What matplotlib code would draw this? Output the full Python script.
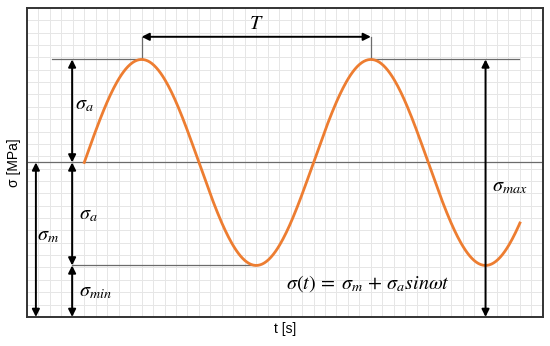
"""
Sinusoidal cyclic stress schematic: sigma(t) = sigma_m + sigma_a sin(wt).
"""

import matplotlib
matplotlib.use('Agg')
import matplotlib.pyplot as plt
import numpy as np

plt.rcParams['font.family'] = 'Liberation Sans'
plt.rcParams['mathtext.fontset'] = 'stix'

# Stress parameters (units where sigma_a = 1)
sigma_m = 1.5
sigma_a = 1.0
period = 1.0
t_start = 0.25     # curve starts at the mean level
t_end = 2.15
t_peaks = [0.5, 1.5]
t_troughs = [1.0, 2.0]

# Axis extents and grid spacing
x_max = 2.25
y_max = 3.0
grid_dx = 0.05
grid_dy = 0.12

# Dimension-arrow positions
x_arrow_inner = 0.197
x_arrow_outer = 0.039
y_period_arrow = 2.72

sigma_max = sigma_m + sigma_a
sigma_min = sigma_m - sigma_a

fig = plt.figure(figsize=(5.5, 3.46), dpi=100)
ax = fig.add_axes([0.049, 0.084, 0.938, 0.893])

# light drawing-paper grid
for gx in np.arange(grid_dx, x_max, grid_dx):
    ax.axvline(gx, color='#e6e6e6', linewidth=0.7, zorder=0)
for gy in np.arange(grid_dy, y_max, grid_dy):
    ax.axhline(gy, color='#e6e6e6', linewidth=0.7, zorder=0)

# reference lines
ref = dict(color='#6b6b6b', linewidth=0.9, zorder=1)
ax.plot([0, x_max], [sigma_m, sigma_m], **ref)
ax.plot([0.109, t_peaks[0]], [sigma_max, sigma_max], **ref)
ax.plot([t_peaks[1], 2.144], [sigma_max, sigma_max], **ref)
ax.plot([x_arrow_inner, t_troughs[0]], [sigma_min, sigma_min], **ref)
for tp in t_peaks:
    ax.plot([tp, tp], [sigma_max, y_period_arrow], **ref)

# stress curve
t = np.linspace(t_start, t_end, 400)
sigma = sigma_m + sigma_a * np.sin(2 * np.pi / period * (t - t_start))
ax.plot(t, sigma, color='#ED7D31', linewidth=2.0, zorder=3)


def dim_arrow(x0, y0, x1, y1):
    ax.annotate('', xy=(x1, y1), xytext=(x0, y0),
                arrowprops=dict(arrowstyle='<|-|>', color='black', lw=1.4,
                                mutation_scale=11, shrinkA=0, shrinkB=0),
                zorder=4)


dim_arrow(x_arrow_inner, sigma_max, x_arrow_inner, sigma_m)
dim_arrow(x_arrow_inner, sigma_m, x_arrow_inner, sigma_min)
dim_arrow(x_arrow_inner, sigma_min, x_arrow_inner, 0)
dim_arrow(x_arrow_outer, sigma_m, x_arrow_outer, 0)
dim_arrow(t_troughs[1], sigma_max, t_troughs[1], 0)
dim_arrow(t_peaks[0], y_period_arrow, t_peaks[1], y_period_arrow)

fs = 14.5
ax.text(1.0, 2.85, r'$T$', fontsize=fs, ha='center', va='center')
ax.text(0.21, 2.06, r'$\sigma_a$', fontsize=fs, ha='left', va='center')
ax.text(0.225, 0.99, r'$\sigma_a$', fontsize=fs, ha='left', va='center')
ax.text(0.225, 0.25, r'$\sigma_{min}$', fontsize=fs, ha='left', va='center')
ax.text(0.042, 0.79, r'$\sigma_m$', fontsize=fs, ha='left', va='center')
ax.text(2.03, 1.27, r'$\sigma_{max}$', fontsize=fs, ha='left', va='center')
ax.text(1.13, 0.32,
        r'$\sigma(t)\,=\;\sigma_m\,+\,\sigma_a sin\omega t$',
        fontsize=fs, ha='left', va='center')

ax.set_xlim(0, x_max)
ax.set_ylim(0, y_max)
ax.set_xticks([])
ax.set_yticks([])
for s in ax.spines.values():
    s.set_color('#333333')
    s.set_linewidth(1.4)

ax.set_xlabel('t [s]', fontsize=10, labelpad=4)
ax.set_ylabel('σ [MPa]', fontsize=10, labelpad=4)

fig.savefig('out.png', dpi=100)
